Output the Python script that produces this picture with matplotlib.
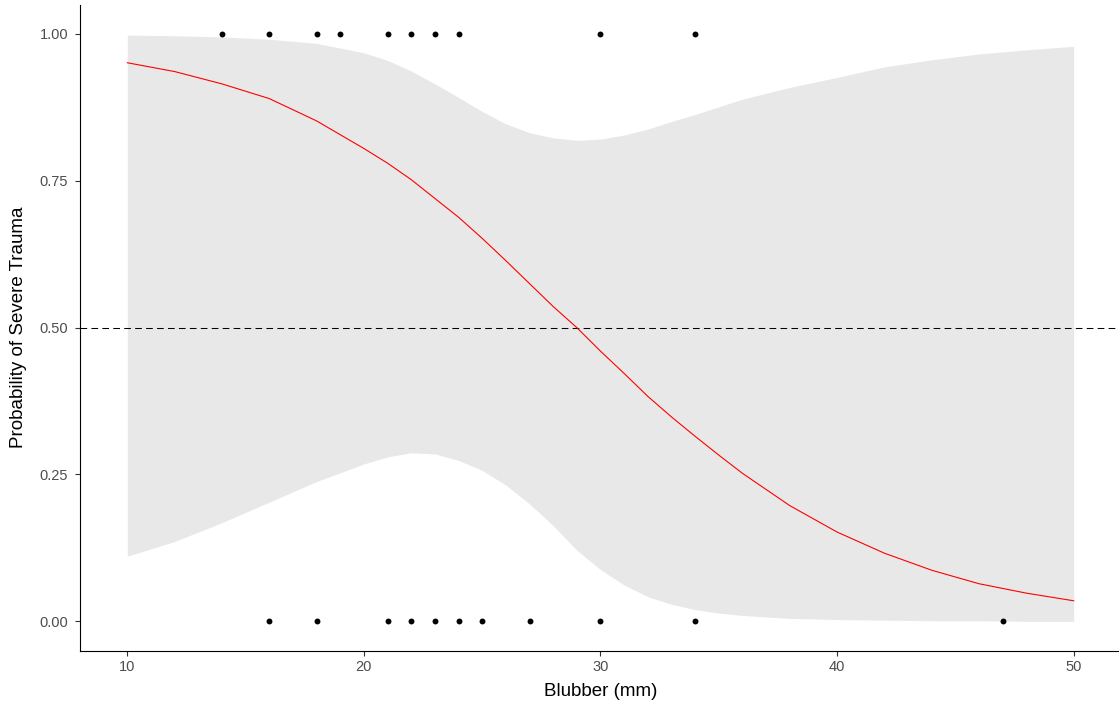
import matplotlib
matplotlib.use("Agg")
import matplotlib.pyplot as plt

plt.rcParams['font.family'] = ['Liberation Sans', 'DejaVu Sans']

# Observed data (Blubber mm vs severe trauma 0/1)
blubber_severe = [14, 16, 18, 19, 21, 22, 23, 24, 30, 34]
blubber_not_severe = [16, 18, 21, 22, 23, 24, 25, 27, 30, 34, 47]

# Fitted probability curve and confidence band
grid_x = [10, 12, 14, 16, 18, 20, 21, 22, 23, 24, 25, 26, 27, 28, 29, 30,
          31, 32, 33, 34, 35, 36, 38, 40, 42, 44, 46, 48, 50]
fit_p = [0.951, 0.936, 0.915, 0.890, 0.852, 0.805, 0.780, 0.752, 0.720, 0.688,
         0.652, 0.614, 0.575, 0.536, 0.500, 0.460, 0.422, 0.383, 0.348, 0.315,
         0.283, 0.252, 0.197, 0.152, 0.116, 0.087, 0.064, 0.048, 0.035]
upper_p = [0.998, 0.997, 0.995, 0.991, 0.984, 0.968, 0.955, 0.937, 0.915, 0.892,
           0.868, 0.847, 0.832, 0.823, 0.819, 0.821, 0.828, 0.838, 0.851, 0.863,
           0.876, 0.889, 0.909, 0.926, 0.944, 0.956, 0.966, 0.973, 0.979]
lower_p = [0.111, 0.136, 0.168, 0.203, 0.238, 0.268, 0.280, 0.287, 0.285, 0.274,
           0.257, 0.232, 0.200, 0.163, 0.121, 0.088, 0.062, 0.042, 0.029, 0.020,
           0.014, 0.010, 0.005, 0.003, 0.002, 0.001, 0.001, 0.000, 0.000]

threshold = 0.5
x_ticks = [10, 20, 30, 40, 50]
y_ticks = [0.00, 0.25, 0.50, 0.75, 1.00]
y_tick_labels = ["0.00", "0.25", "0.50", "0.75", "1.00"]

W, H = 1119, 709
fig = plt.figure(figsize=(W / 100, H / 100), dpi=100)
left_px, right_px, top_px, bottom_px = 80, 1121, 4.6, 650.7
ax = fig.add_axes([left_px / W, 1 - bottom_px / H,
                   (right_px - left_px) / W, (bottom_px - top_px) / H])

ax.fill_between(grid_x, lower_p, upper_p, color='#E8E8E8', linewidth=0, zorder=1)
ax.plot(grid_x, fit_p, color='red', linewidth=0.8, zorder=3)
ax.axhline(threshold, color='black', linewidth=0.75, dashes=(6.4, 4.1), zorder=2)
ax.scatter(blubber_severe, [1] * len(blubber_severe), s=18, color='black',
           linewidths=0, zorder=4)
ax.scatter(blubber_not_severe, [0] * len(blubber_not_severe), s=18, color='black',
           linewidths=0, zorder=4)

ax.set_xlim(8, 52)
ax.set_ylim(-0.05, 1.05)
ax.set_xticks(x_ticks)
ax.set_yticks(y_ticks)
ax.set_yticklabels(y_tick_labels)

for side in ['top', 'right']:
    ax.spines[side].set_visible(False)
for side in ['left', 'bottom']:
    ax.spines[side].set_color('black')
    ax.spines[side].set_linewidth(0.8)

ax.tick_params(axis='both', length=3.5, width=0.8, color='#333333',
               labelcolor='#4D4D4D', labelsize=10.5)
ax.tick_params(axis='y', pad=5)
ax.tick_params(axis='x', pad=3)

ax.set_xlabel("Blubber (mm)", fontsize=13.5, color='black', labelpad=7)
ax.set_ylabel("Probability of Severe Trauma", fontsize=13.5, color='black', labelpad=9)

fig.savefig("out.png", dpi=100)
